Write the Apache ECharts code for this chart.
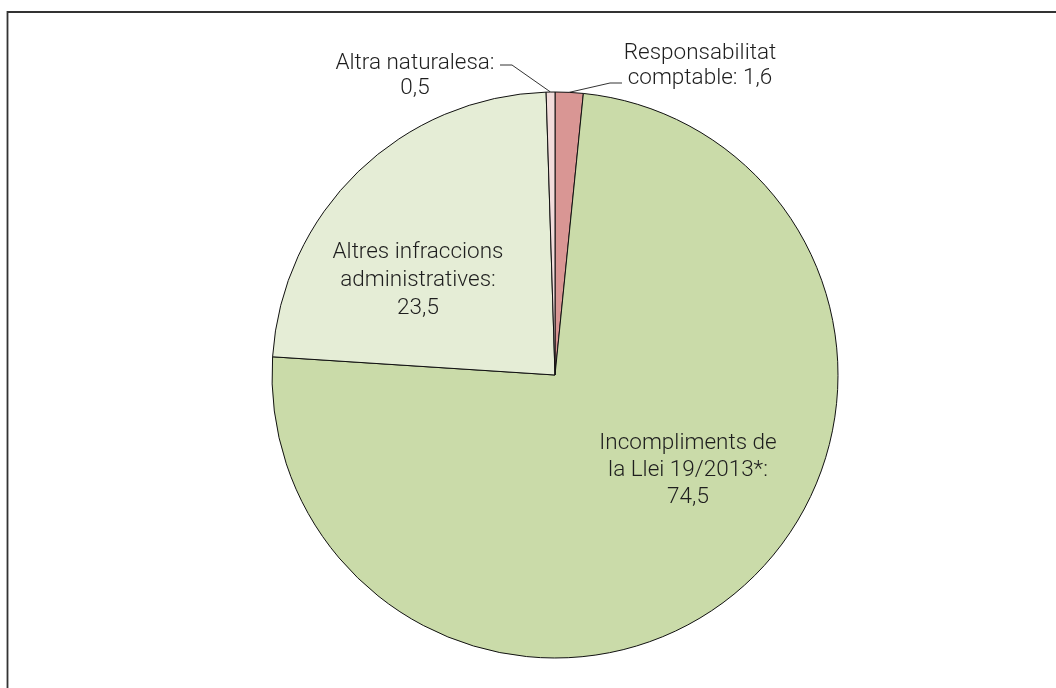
<!DOCTYPE html>
<html>
<head>
<meta charset="utf-8">
<script src="https://cdn.jsdelivr.net/npm/echarts@6/dist/echarts.min.js"></script>
<style>
  html, body { margin: 0; padding: 0; background: #fff; }
  #chart { width: 1056px; height: 688px; }
</style>
</head>
<body>
<div id="chart"></div>
<script>
// categories and values, clockwise from 12 o'clock
const categories = [
  'Responsabilitat\ncomptable',
  'Incompliments de\nla Llei 19/2013*',
  'Altres infraccions\nadministratives',
  'Altra naturalesa'
]
const values = [1.6, 74.5, 23.5, 0.5]
const colors = ['#D99694', '#CADBA9', '#E5EDD6', '#F2DCDB']

// where each label sits (label centre, and the leader line bend for outside labels)
const labelPos = [
  { x: 700, y: 66, lh: 25, bend: [[610, 83], [622, 83]] },
  { x: 688, y: 470, lh: 27 },
  { x: 418, y: 280, lh: 28 },
  { x: 415, y: 76, lh: 25, bend: [[512, 65], [500, 65]] }
]

const fmt = v => String(v).replace('.', ',')

const chart = echarts.init(document.getElementById('chart'))

chart.setOption({
  animation: false,
  backgroundColor: '#fff',
  graphic: [{
    type: 'rect',
    shape: { x: 7.5, y: 12, width: 1100, height: 720 },
    style: { fill: 'none', stroke: '#333', lineWidth: 1.8 },
    silent: true
  }],
  series: [{
    type: 'pie',
    center: [555, 375],
    radius: 283,
    startAngle: 90,
    clockwise: true,
    avoidLabelOverlap: false,
    data: categories.map((name, i) => ({
      name,
      value: values[i],
      itemStyle: { color: colors[i] },
      label: { lineHeight: labelPos[i].lh }
    })),
    itemStyle: { borderColor: '#111', borderWidth: 1 },
    label: {
      show: true,
      position: 'outside',
      color: '#1e1e1e',
      fontFamily: 'Roboto',
      fontWeight: 300,
      fontSize: 22.5,
      align: 'center',
      formatter: p => p.name + ':' + (p.dataIndex === 0 ? ' ' : '\n') + fmt(p.value)
    },
    labelLine: {
      show: true,
      lineStyle: { color: '#333', width: 1 }
    },
    labelLayout: params => {
      const pos = labelPos[params.dataIndex]
      const out = { x: pos.x, y: pos.y, align: 'center', verticalAlign: 'middle' }
      if (pos.bend && params.labelLinePoints) {
        out.labelLinePoints = [params.labelLinePoints[0], pos.bend[0], pos.bend[1]]
      }
      return out
    },
    emphasis: { disabled: true }
  }]
})
</script>
</body>
</html>
